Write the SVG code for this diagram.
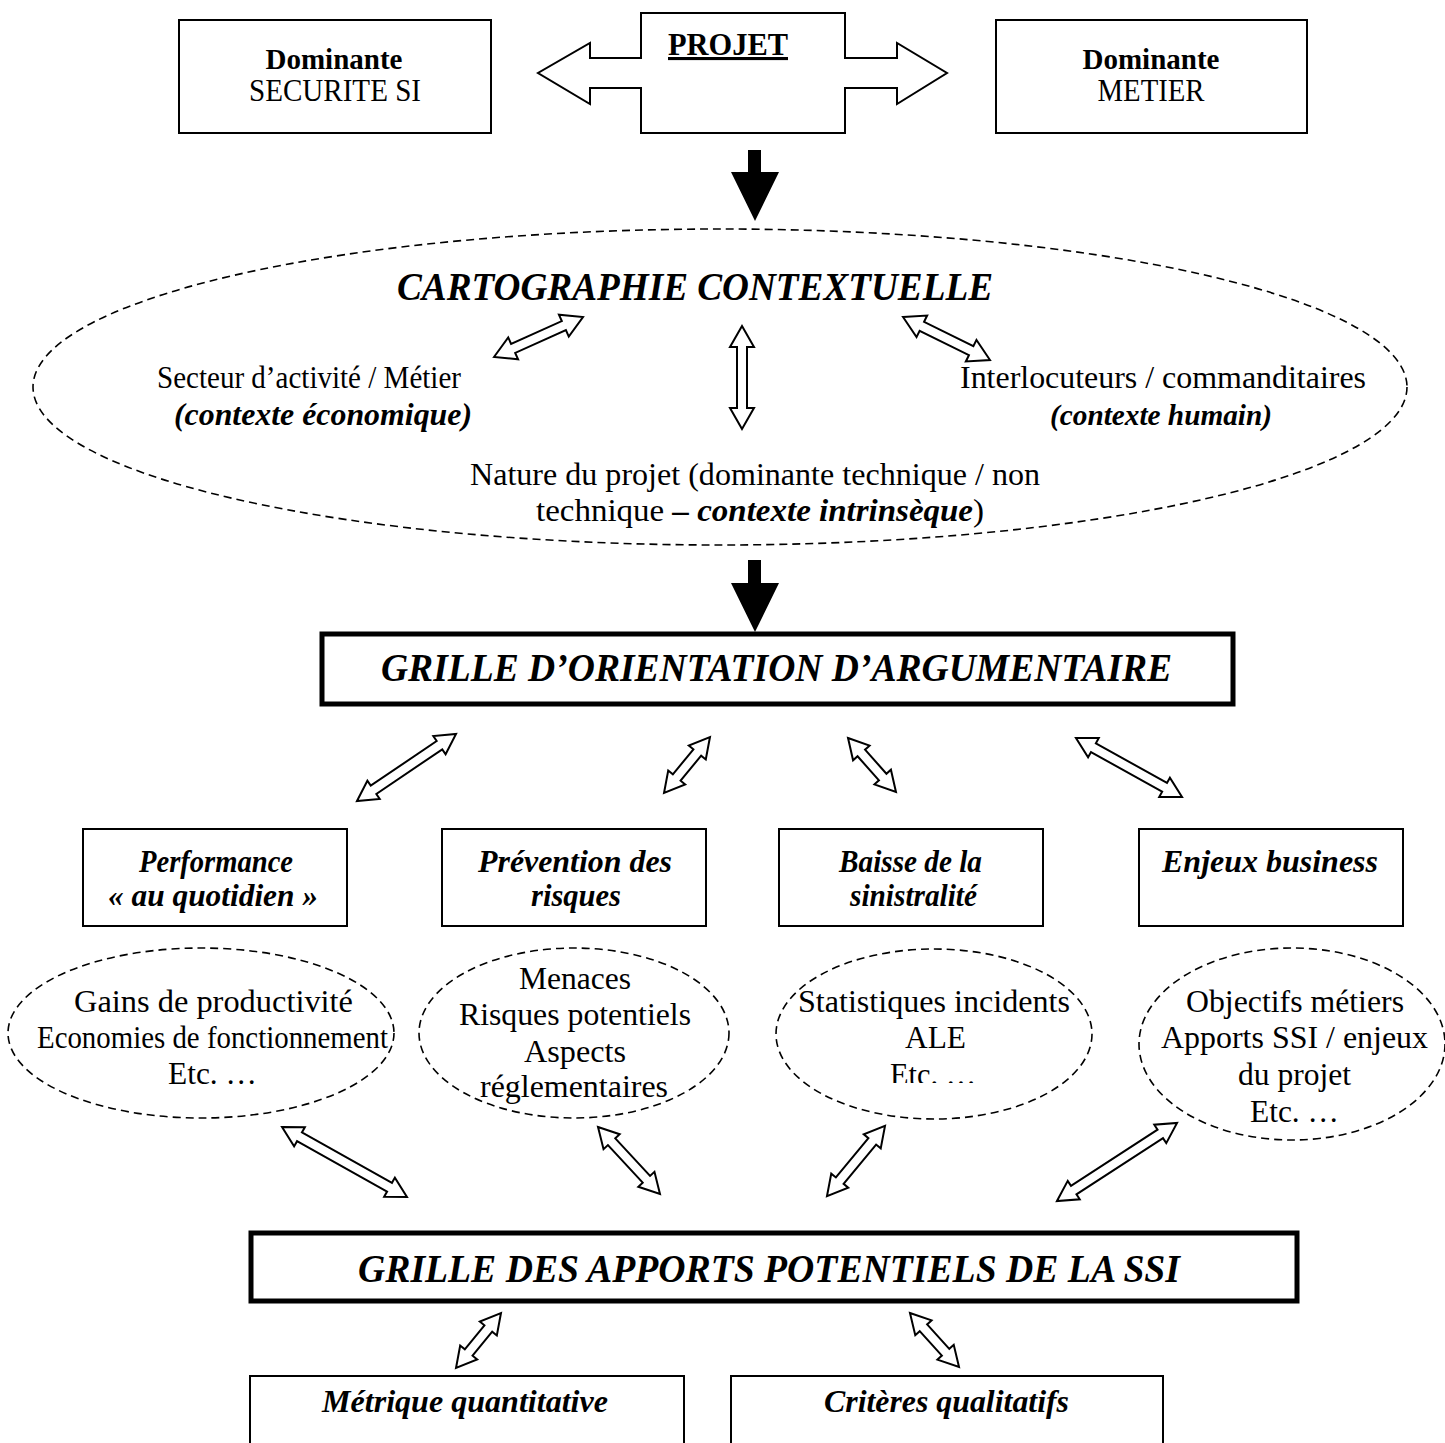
<svg xmlns="http://www.w3.org/2000/svg" width="1445" height="1443" viewBox="0 0 1445 1443">
<style>
text{font-family:"Liberation Serif","Times New Roman",serif;fill:#000;text-anchor:middle;font-size:32px}
.b{font-weight:bold}
.bi{font-weight:bold;font-style:italic}
.title{font-size:40px;font-weight:bold;font-style:italic}
.box{fill:#fff;stroke:#000;stroke-width:2}
.thick{fill:#fff;stroke:#000;stroke-width:5}
.dash{fill:none;stroke:#000;stroke-width:1.6;stroke-dasharray:8 5}
.da{fill:#fff;stroke:#000;stroke-width:2;stroke-linejoin:miter}
.solid{fill:#000}
</style>
<defs>
<clipPath id="clipEtc"><rect x="0" y="0" width="1445" height="1083"/></clipPath>
</defs>
<rect width="1445" height="1443" fill="#fff"/>

<g id="dominante-securite">
<rect class="box" x="179" y="20" width="312" height="113"/>
<text class="b" x="334" y="69" style="font-size:29px">Dominante</text>
<text x="335" y="101" textLength="172" lengthAdjust="spacingAndGlyphs">SECURITE SI</text>
</g>

<g id="projet">
<path class="da" d="M641 13 H845 V58 H897 V43 L947 73 L897 104 V88 H845 V133 H641 V88 H590 V104 L538 73 L590 43 V58 H641 Z"/>
<text class="b" x="728" y="55" style="font-size:31px;text-decoration:underline" textLength="120" lengthAdjust="spacingAndGlyphs">PROJET</text>
</g>

<g id="dominante-metier">
<rect class="box" x="996" y="20" width="311" height="113"/>
<text class="b" x="1151" y="69" style="font-size:29px">Dominante</text>
<text x="1151" y="101" textLength="107" lengthAdjust="spacingAndGlyphs">METIER</text>
</g>

<g id="cartographie">
<ellipse class="dash" cx="720" cy="387" rx="687" ry="158"/>
<text class="title" x="695" y="300" textLength="596" lengthAdjust="spacingAndGlyphs">CARTOGRAPHIE CONTEXTUELLE</text>
<text x="309" y="388" textLength="304" lengthAdjust="spacingAndGlyphs">Secteur d’activité / Métier</text>
<text class="bi" x="323" y="425" textLength="298" lengthAdjust="spacingAndGlyphs">(contexte économique)</text>
<text x="1163" y="388" textLength="406" lengthAdjust="spacingAndGlyphs">Interlocuteurs / commanditaires</text>
<text class="bi" x="1161" y="425" style="font-size:30px" textLength="222" lengthAdjust="spacingAndGlyphs">(contexte humain)</text>
<text x="755" y="485" textLength="570" lengthAdjust="spacingAndGlyphs">Nature du projet (dominante technique / non</text>
<text x="760" y="521" textLength="448" lengthAdjust="spacingAndGlyphs">technique <tspan class="bi">– contexte intrinsèque</tspan>)</text>
</g>

<g id="grille-orientation">
<rect class="thick" x="322" y="634" width="911" height="70"/>
<text class="title" x="776.5" y="681" textLength="791" lengthAdjust="spacingAndGlyphs">GRILLE D’ORIENTATION D’ARGUMENTAIRE</text>
</g>

<g id="performance">
<rect class="box" x="83" y="829" width="264" height="97"/>
<text class="bi" x="216" y="872" textLength="154" lengthAdjust="spacingAndGlyphs">Performance</text>
<text class="bi" x="213" y="906" textLength="210" lengthAdjust="spacingAndGlyphs">« au quotidien »</text>
</g>
<g id="prevention">
<rect class="box" x="442" y="829" width="264" height="97"/>
<text class="bi" x="575" y="872" textLength="194" lengthAdjust="spacingAndGlyphs">Prévention des</text>
<text class="bi" x="576" y="906" textLength="90" lengthAdjust="spacingAndGlyphs">risques</text>
</g>
<g id="sinistralite">
<rect class="box" x="779" y="829" width="264" height="97"/>
<text class="bi" x="910.5" y="872" textLength="143" lengthAdjust="spacingAndGlyphs">Baisse de la</text>
<text class="bi" x="913.5" y="906" textLength="127" lengthAdjust="spacingAndGlyphs">sinistralité</text>
</g>
<g id="enjeux">
<rect class="box" x="1139" y="829" width="264" height="97"/>
<text class="bi" x="1270" y="872" textLength="216" lengthAdjust="spacingAndGlyphs">Enjeux business</text>
</g>

<g id="ellipse-gains">
<ellipse class="dash" cx="201" cy="1033" rx="193" ry="85"/>
<text x="213.5" y="1012" textLength="279" lengthAdjust="spacingAndGlyphs">Gains de productivité</text>
<text x="212.5" y="1048" textLength="351" lengthAdjust="spacingAndGlyphs">Economies de fonctionnement</text>
<text x="212.5" y="1084" textLength="89" lengthAdjust="spacingAndGlyphs">Etc. …</text>
</g>
<g id="ellipse-menaces">
<ellipse class="dash" cx="574" cy="1033" rx="155" ry="85"/>
<text x="575" y="989" textLength="112" lengthAdjust="spacingAndGlyphs">Menaces</text>
<text x="575" y="1025" textLength="232" lengthAdjust="spacingAndGlyphs">Risques potentiels</text>
<text x="575" y="1062" textLength="102" lengthAdjust="spacingAndGlyphs">Aspects</text>
<text x="574" y="1097" textLength="188" lengthAdjust="spacingAndGlyphs">réglementaires</text>
</g>
<g id="ellipse-stats">
<ellipse class="dash" cx="934" cy="1034" rx="158" ry="85"/>
<text x="934" y="1012" textLength="272" lengthAdjust="spacingAndGlyphs">Statistiques incidents</text>
<text x="935.5" y="1048" textLength="61" lengthAdjust="spacingAndGlyphs">ALE</text>
<text x="933" y="1085" textLength="86" lengthAdjust="spacingAndGlyphs" clip-path="url(#clipEtc)">Etc. …</text>
</g>
<g id="ellipse-objectifs">
<ellipse class="dash" cx="1292" cy="1044" rx="153" ry="96"/>
<text x="1295" y="1012" textLength="218" lengthAdjust="spacingAndGlyphs">Objectifs métiers</text>
<text x="1294.5" y="1048" textLength="267" lengthAdjust="spacingAndGlyphs">Apports SSI / enjeux</text>
<text x="1294.5" y="1085" textLength="113" lengthAdjust="spacingAndGlyphs">du projet</text>
<text x="1294.5" y="1122" textLength="89" lengthAdjust="spacingAndGlyphs">Etc. …</text>
</g>

<g id="grille-apports">
<rect class="thick" x="251" y="1233" width="1046" height="68"/>
<text class="title" x="769" y="1282" textLength="822" lengthAdjust="spacingAndGlyphs">GRILLE DES APPORTS POTENTIELS DE LA SSI</text>
</g>

<g id="metrique">
<rect class="box" x="250" y="1376" width="434" height="90"/>
<text class="bi" x="465" y="1412" textLength="286" lengthAdjust="spacingAndGlyphs">Métrique quantitative</text>
</g>
<g id="criteres">
<rect class="box" x="731" y="1376" width="432" height="90"/>
<text class="bi" x="946.5" y="1412" textLength="245" lengthAdjust="spacingAndGlyphs">Critères qualitatifs</text>
</g>

<g id="connectors">
<path class="solid" d="M748 150 H761 V172 H779 L755 221 L731 172 H748 Z"/>
<path class="solid" d="M748 560 H761 V583 H779 L755 632 L731 583 H748 Z"/>
<path class="da" transform="translate(538.5 337) rotate(-24.2)" d="M-48.8 0 L-27.8 -12 L-27.8 -5 L27.8 -5 L27.8 -12 L48.8 0 L27.8 12 L27.8 5 L-27.8 5 L-27.8 12 Z"/>
<path class="da" transform="translate(742 377.5) rotate(90)" d="M-51.5 0 L-30.5 -12 L-30.5 -5 L30.5 -5 L30.5 -12 L51.5 0 L30.5 12 L30.5 5 L-30.5 5 L-30.5 12 Z"/>
<path class="da" transform="translate(946.5 338.5) rotate(26.3)" d="M-48.5 0 L-27.5 -12 L-27.5 -5 L27.5 -5 L27.5 -12 L48.5 0 L27.5 12 L27.5 5 L-27.5 5 L-27.5 12 Z"/>
<path class="da" transform="translate(406.5 767.5) rotate(-34.1)" d="M-59.8 0 L-39.8 -11 L-39.8 -5 L39.8 -5 L39.8 -11 L59.8 0 L39.8 11 L39.8 5 L-39.8 5 L-39.8 11 Z"/>
<path class="da" transform="translate(687 765) rotate(-50.6)" d="M-36.2 0 L-16.2 -11 L-16.2 -5 L16.2 -5 L16.2 -11 L36.2 0 L16.2 11 L16.2 5 L-16.2 5 L-16.2 11 Z"/>
<path class="da" transform="translate(872 765) rotate(48.4)" d="M-36.1 0 L-16.1 -11 L-16.1 -5 L16.1 -5 L16.1 -11 L36.1 0 L16.1 11 L16.1 5 L-16.1 5 L-16.1 11 Z"/>
<path class="da" transform="translate(1129 767.5) rotate(29.1)" d="M-60.7 0 L-40.7 -11 L-40.7 -5 L40.7 -5 L40.7 -11 L60.7 0 L40.7 11 L40.7 5 L-40.7 5 L-40.7 11 Z"/>
<path class="da" transform="translate(344.5 1162) rotate(29.25)" d="M-71.6 0 L-51.6 -11 L-51.6 -5 L51.6 -5 L51.6 -11 L71.6 0 L51.6 11 L51.6 5 L-51.6 5 L-51.6 11 Z"/>
<path class="da" transform="translate(629 1160.5) rotate(47.2)" d="M-45.6 0 L-25.6 -11 L-25.6 -5 L25.6 -5 L25.6 -11 L45.6 0 L25.6 11 L25.6 5 L-25.6 5 L-25.6 11 Z"/>
<path class="da" transform="translate(856 1161) rotate(-50.4)" d="M-45.5 0 L-25.5 -11 L-25.5 -5 L25.5 -5 L25.5 -11 L45.5 0 L25.5 11 L25.5 5 L-25.5 5 L-25.5 11 Z"/>
<path class="da" transform="translate(1117 1162) rotate(-33)" d="M-71.6 0 L-51.6 -11 L-51.6 -5 L51.6 -5 L51.6 -11 L71.6 0 L51.6 11 L51.6 5 L-51.6 5 L-51.6 11 Z"/>
<path class="da" transform="translate(478.5 1340.5) rotate(-50.7)" d="M-35.5 0 L-15.5 -11 L-15.5 -5 L15.5 -5 L15.5 -11 L35.5 0 L15.5 11 L15.5 5 L-15.5 5 L-15.5 11 Z"/>
<path class="da" transform="translate(934.5 1340) rotate(47.8)" d="M-36.5 0 L-16.5 -11 L-16.5 -5 L16.5 -5 L16.5 -11 L36.5 0 L16.5 11 L16.5 5 L-16.5 5 L-16.5 11 Z"/>
</g>
</svg>
